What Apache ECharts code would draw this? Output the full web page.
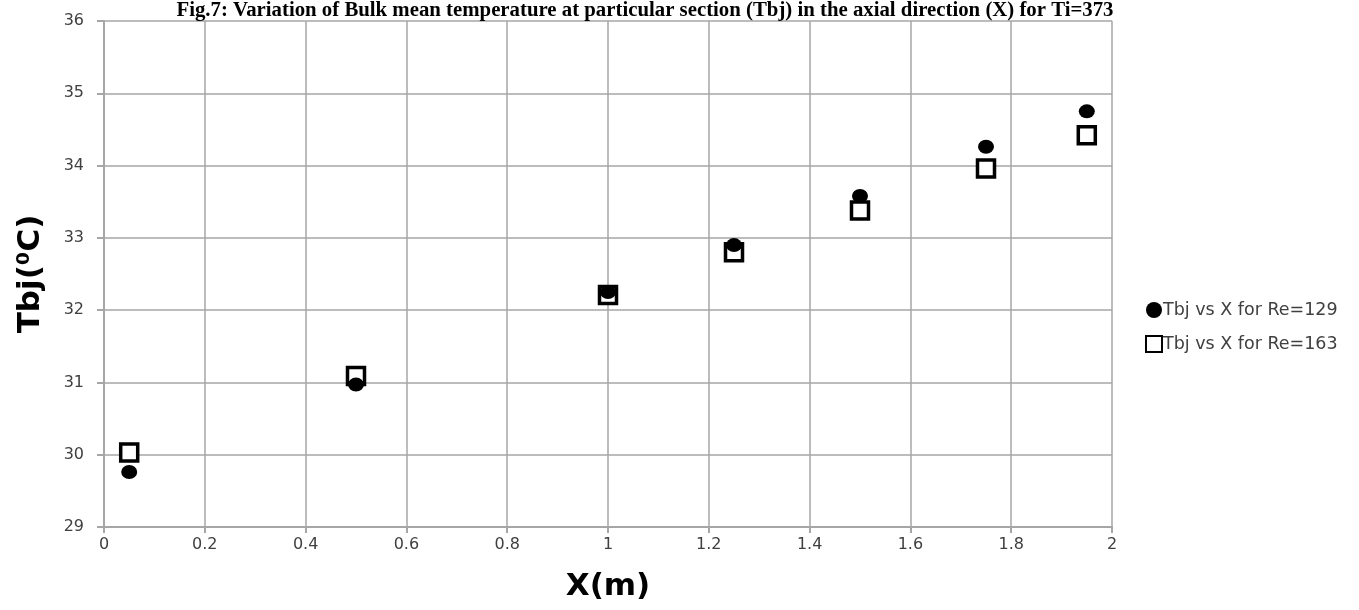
<!DOCTYPE html>
<html>
<head>
<meta charset="utf-8">
<script src="https://cdn.jsdelivr.net/npm/echarts@6/dist/echarts.min.js"></script>
<style>
  html, body { margin: 0; padding: 0; background: #ffffff; }
  #chart { width: 1359px; height: 610px; }
</style>
</head>
<body>
<div id="chart"></div>
<script>
// Axial positions X (m) and bulk mean temperature Tbj (°C)
const xPositions = [0.05, 0.5, 1.0, 1.25, 1.5, 1.75, 1.95];
const tbjRe129 = [29.76, 30.97, 32.25, 32.90, 33.58, 34.26, 34.75];
const tbjRe163 = [30.03, 31.09, 32.21, 32.80, 33.38, 33.96, 34.42];
const seriesNames = ['Tbj vs X for Re=129', 'Tbj vs X for Re=163'];
const titleText = 'Fig.7: Variation of Bulk mean temperature at particular section (Tbj) in the axial direction (X) for Ti=373';

const pairs = (xs, ys) => xs.map((x, i) => [x, ys[i]]);

const chart = echarts.init(document.getElementById('chart'), null, { renderer: 'canvas' });

const gridColor = '#a6a6a6';
const tickFont = { fontFamily: 'DejaVu Sans', fontSize: 16, color: '#404040' };

chart.setOption({
  animation: false,
  backgroundColor: '#ffffff',
  title: {
    text: titleText,
    left: 640,
    textAlign: 'center',
    top: -5,
    textStyle: { fontFamily: 'Liberation Serif', fontWeight: 'bold', fontSize: 20.8, color: '#000000' }
  },
  grid: { left: 104, right: 247, top: 21, bottom: 83 },
  legend: {
    orient: 'vertical',
    left: 1140,
    top: 296,
    itemWidth: 16,
    itemHeight: 16,
    itemGap: 16,
    textStyle: { fontFamily: 'DejaVu Sans', fontSize: 17.5, color: '#404040', padding: [0, 0, 0, -4] },
    data: seriesNames
  },
  xAxis: {
    type: 'value',
    min: 0,
    max: 2,
    interval: 0.2,
    name: 'X(m)',
    nameLocation: 'middle',
    nameGap: 44,
    nameTextStyle: { fontFamily: 'DejaVu Sans', fontWeight: 'bold', fontSize: 31, color: '#000000' },
    axisLine: { show: true, lineStyle: { color: gridColor, width: 2 } },
    axisTick: { show: true, length: 6, lineStyle: { color: gridColor, width: 2 } },
    splitLine: { show: true, lineStyle: { color: gridColor, width: 1.5 } },
    axisLabel: Object.assign({ margin: 10 }, tickFont)
  },
  yAxis: {
    type: 'value',
    min: 29,
    max: 36,
    interval: 1,
    name: 'Tbj(\u2070C)',
    nameLocation: 'middle',
    nameGap: 58,
    nameTextStyle: { fontFamily: 'DejaVu Sans', fontWeight: 'bold', fontSize: 31, color: '#000000' },
    axisLine: { show: true, lineStyle: { color: gridColor, width: 2 } },
    axisTick: { show: true, length: 7, lineStyle: { color: gridColor, width: 2 } },
    splitLine: { show: true, lineStyle: { color: gridColor, width: 1.5 } },
    axisLabel: Object.assign({ margin: 20 }, tickFont)
  },
  series: [
    {
      name: seriesNames[0],
      type: 'scatter',
      symbol: 'circle',
      symbolSize: [16, 14],
      itemStyle: { color: '#000000', opacity: 1 },
      data: pairs(xPositions, tbjRe129),
      z: 3
    },
    {
      name: seriesNames[1],
      type: 'scatter',
      symbol: 'rect',
      symbolSize: 17,
      itemStyle: { color: '#ffffff', borderColor: '#000000', borderWidth: 3.5, opacity: 1 },
      data: pairs(xPositions, tbjRe163),
      z: 2
    }
  ]
});
</script>
</body>
</html>
